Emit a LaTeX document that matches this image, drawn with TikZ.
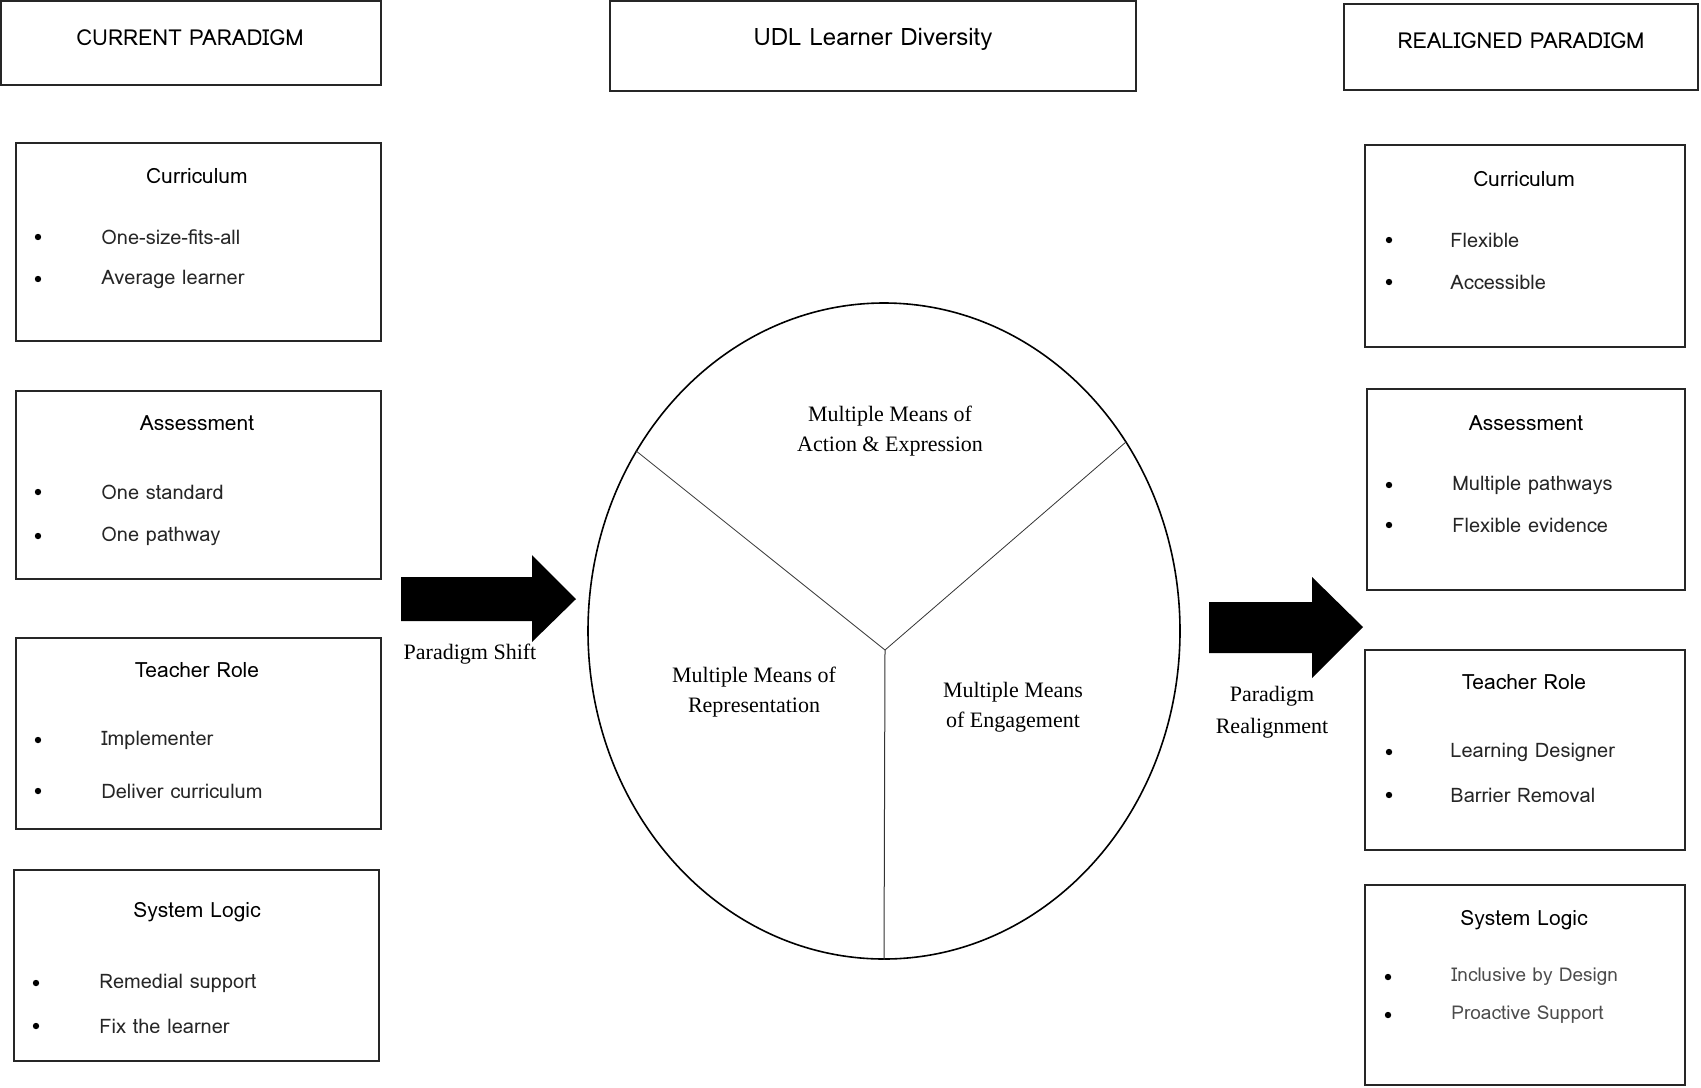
\documentclass[tikz,border=0pt]{standalone}
\usepackage{fontspec}
\setmainfont{Liberation Serif}
\newfontfamily\lomafont{Loma}
\usetikzlibrary{shapes.geometric}

\tikzset{
  panel/.style={draw=black!85, line width=0.7pt, inner sep=0pt},
  head/.style={font=\lomafont\fontsize{11}{13}\selectfont},
  sub/.style={font=\lomafont\fontsize{10.5}{12}\selectfont},
  item/.style={font=\lomafont\fontsize{10}{12}\selectfont, text=black!85, anchor=west, inner sep=0pt},
  dot/.style={circle, fill=black, inner sep=0pt, minimum size=3.2pt},
  means/.style={font=\fontsize{11}{15}\selectfont, align=center}
}

\begin{document}
\begin{tikzpicture}[x=0.5pt,y=-0.5pt]
\useasboundingbox (0,0) rectangle (1701,1087);

\node [panel,minimum width=190pt,minimum height=42pt] (curbox) at (191,43) {};
\node [head] (curtitle) at (190,38) {CURRENT PARADIGM};
\node [panel,minimum width=263pt,minimum height=45pt] (udlbox) at (873,46) {};
\node [head,font=\lomafont\fontsize{12}{14}\selectfont] (udltitle) at (873,39) {UDL Learner Diversity};
\node [panel,minimum width=177pt,minimum height=43pt] (realbox) at (1521,47) {};
\node [head] (realtitle) at (1521,41) {REALIGNED PARADIGM};

\node [panel,minimum width=182.5pt,minimum height=99pt] (lcurr) at (198.5,242) {};
\node [sub] (lcurrt) at (197,176) {Curriculum};
\node [dot] (lcurr1) at (38,237) {}; \node [item] (lcurr1t) at (101,237) {One-size-fits-all};
\node [dot] (lcurr2) at (38,279) {}; \node [item] (lcurr2t) at (101,279) {Average learner};

\node [panel,minimum width=182.5pt,minimum height=94pt] (lass) at (198.5,485) {};
\node [sub] (lasst) at (197,423) {Assessment};
\node [dot] (lass1) at (38,492) {}; \node [item] (lass1t) at (101,492) {One standard};
\node [dot] (lass2) at (38,536) {}; \node [item] (lass2t) at (101,536) {One pathway};

\node [panel,minimum width=182.5pt,minimum height=95.5pt] (lrole) at (198.5,733.5) {};
\node [sub] (lrolet) at (197,670) {Teacher Role};
\node [dot] (lrole1) at (38,740) {}; \node [item] (lrole1t) at (101,740) {Implementer};
\node [dot] (lrole2) at (38,791) {}; \node [item] (lrole2t) at (101,791) {Deliver curriculum};

\node [panel,minimum width=182.5pt,minimum height=95.5pt] (llogic) at (196.5,965.5) {};
\node [sub] (llogict) at (197,912) {System Logic};
\node [dot] (llogic1) at (36,983) {}; \node [item] (llogic1t) at (99,983) {Remedial support};
\node [dot] (llogic2) at (36,1026) {}; \node [item] (llogic2t) at (99,1026) {Fix the learner};

\node [panel,minimum width=160pt,minimum height=101pt] (rcurr) at (1525,246) {};
\node [sub] (rcurrt) at (1524,179) {Curriculum};
\node [dot] (rcurr1) at (1389,240) {}; \node [item] (rcurr1t) at (1450,240) {Flexible};
\node [dot] (rcurr2) at (1389,282) {}; \node [item] (rcurr2t) at (1450,282) {Accessible};

\node [panel,minimum width=159pt,minimum height=100.5pt] (rass) at (1526,489.5) {};
\node [sub] (rasst) at (1526,423) {Assessment};
\node [dot] (rass1) at (1389,485) {}; \node [item] (rass1t) at (1452,485) {Multiple pathways};
\node [dot] (rass2) at (1389,525) {}; \node [item] (rass2t) at (1452,525) {Flexible evidence};

\node [panel,minimum width=160pt,minimum height=100pt] (rrole) at (1525,750) {};
\node [sub] (rrolet) at (1524,682) {Teacher Role};
\node [dot] (rrole1) at (1389,752) {}; \node [item] (rrole1t) at (1450,752) {Learning Designer};
\node [dot] (rrole2) at (1389,795) {}; \node [item] (rrole2t) at (1450,795) {Barrier Removal};

\node [panel,minimum width=160pt,minimum height=100pt] (rlogic) at (1525,985) {};
\node [sub] (rlogict) at (1524,920) {System Logic};
\node [dot] (rlogic1) at (1388,977) {}; \node [item,text=black!70,font=\lomafont\fontsize{9.5}{12}\selectfont] (rlogic1t) at (1451,977) {Inclusive by Design};
\node [dot] (rlogic2) at (1388,1015) {}; \node [item,text=black!70,font=\lomafont\fontsize{9.5}{12}\selectfont] (rlogic2t) at (1451,1015) {Proactive Support};

\node [ellipse,draw,line width=0.8pt,inner sep=0pt,minimum width=296pt,minimum height=328pt] (udl) at (884,631) {};
\coordinate (hub) at (885,650);
\draw [line width=0.4pt,black!80] (hub) -- (udl.144);
\draw [line width=0.4pt,black!80] (hub) -- (udl.38);
\draw [line width=0.5pt,black!80] (hub) -- (udl.south);
\node [means] (action) at (890,431) {Multiple Means of\\Action \& Expression};
\node [means] (repr) at (754,692) {Multiple Means of\\Representation};
\node [means] (engage) at (1013,707) {Multiple Means\\of Engagement};

\fill (401,577) -- (532,577) -- (532,555) -- (576,599) -- (532,642) -- (532,621) -- (401,621) -- cycle;
\node [means] (shift) at (470,654) {Paradigm Shift};
\fill (1209,602) -- (1312,602) -- (1312,577) -- (1363,627) -- (1312,678) -- (1312,653) -- (1209,653) -- cycle;
\node [means,font=\fontsize{11}{16}\selectfont] (realign) at (1272,712) {Paradigm\\Realignment};
\end{tikzpicture}
\end{document}
